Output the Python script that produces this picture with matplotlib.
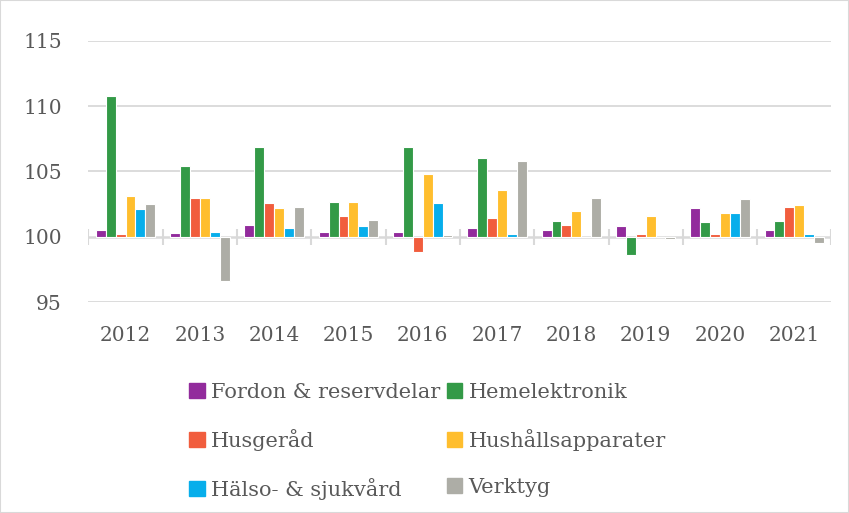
import matplotlib.pyplot as plt
import matplotlib.patches as mpatches
import numpy as np

years = ['2012', '2013', '2014', '2015', '2016', '2017', '2018', '2019', '2020', '2021']
series = ['Fordon & reservdelar', 'Hemelektronik', 'Husgeråd',
          'Hushållsapparater', 'Hälso- & sjukvård', 'Verktyg']
fordon = [100.5, 100.3, 100.9, 100.4, 100.4, 100.7, 100.5, 100.8, 102.2, 100.5]
hemelektronik = [110.8, 105.4, 106.9, 102.7, 106.9, 106.0, 101.2, 98.6, 101.1, 101.2]
husgerad = [100.2, 103.0, 102.6, 101.6, 98.8, 101.4, 100.9, 100.2, 100.2, 102.3]
hushall = [103.1, 103.0, 102.2, 102.7, 104.8, 103.6, 102.0, 101.6, 101.8, 102.4]
halso = [102.1, 100.4, 100.7, 100.8, 102.6, 100.2, 100.0, 100.0, 101.8, 100.2]
verktyg = [102.5, 96.6, 102.3, 101.3, 100.1, 105.8, 103.0, 99.8, 102.9, 99.5]
colors = ['#922B9C', '#339A47', '#F15D3D', '#FFBE2E', '#07AEEB', '#ADADA6']

values = [fordon, hemelektronik, husgerad, hushall, halso, verktyg]
text_color = '#595959'
grid_color = '#D9D9D9'

plt.rcParams['font.family'] = ['DejaVu Serif']
fig = plt.figure(figsize=(8.49, 5.13), dpi=100)
ax = fig.add_axes([0.1041, 0.4113, 0.8752, 0.5088])

x = np.arange(len(years))
slot = 1 / 7.5
for i, (name, vals) in enumerate(zip(series, values)):
    offs = (i - 2.5) * slot
    h = np.array(vals) - 100
    ax.bar(x + offs, h, bottom=100, width=slot, color=colors[i],
           edgecolor='white', linewidth=0.8, label=name, zorder=3)

ax.set_ylim(95, 115)
ax.set_xlim(-0.5, len(years) - 0.5)
ax.set_yticks([95, 100, 105, 110, 115])
for y in [95, 105, 110, 115]:
    ax.axhline(y, color=grid_color, lw=1.3, zorder=1)
ax.axhline(100, color=grid_color, lw=1.8, zorder=2)
ax.vlines(np.arange(len(years) + 1) - 0.5, 99.4, 100.6, color=grid_color, lw=1.5, zorder=2)

for s in ax.spines.values():
    s.set_visible(False)
ax.tick_params(axis='both', length=0, labelsize=14.5, labelcolor=text_color)
ax.tick_params(axis='y', pad=19)
ax.tick_params(axis='x', pad=17)
ax.set_xticks(x)
ax.set_xticklabels(years)

handles = [mpatches.Patch(color=c) for c in colors]
order = [0, 2, 4, 1, 3, 5]
leg = fig.legend([handles[k] for k in order], [series[k] for k in order],
                 ncol=2, loc='upper left', bbox_to_anchor=(0.213, 0.27),
                 frameon=False, fontsize=15, handlelength=0.75, handleheight=0.75,
                 handletextpad=0.3, columnspacing=0.3, labelspacing=1.3,
                 borderaxespad=0)
for t in leg.get_texts():
    t.set_color(text_color)

fig.patches.append(mpatches.Rectangle((0, 0), 1, 1, transform=fig.transFigure,
                                      fill=False, edgecolor=grid_color, lw=1.5))
fig.savefig('out.png', dpi=100)
